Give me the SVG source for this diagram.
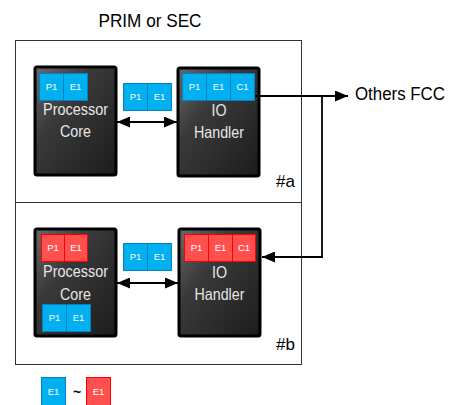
<svg xmlns="http://www.w3.org/2000/svg" width="451" height="405" viewBox="0 0 451 405">
<defs>
<linearGradient id="dark" x1="0" y1="0" x2="1" y2="1">
<stop offset="0" stop-color="#6a6a6a"/>
<stop offset="0.35" stop-color="#3a3a3a"/>
<stop offset="1" stop-color="#1c1c1c"/>
</linearGradient>
<marker id="ah" markerUnits="userSpaceOnUse" viewBox="0 0 13 11" markerWidth="13" markerHeight="11" refX="13" refY="5.5" orient="auto-start-reverse">
<path d="M0,0 L13,5.5 L0,11 z" fill="#000"/>
</marker>
<style>
.frame{fill:#fff;stroke:#333;stroke-width:1}
.core{fill:url(#dark);stroke:#000;stroke-width:3}
.blue{fill:#00b0f0;stroke:#0a7fc0;stroke-width:1}
.red{fill:#ff5050;stroke:#ff0000;stroke-width:1}
.ct{font-family:"Liberation Sans",Arial,sans-serif;font-size:9.5px;fill:#fff;text-anchor:middle}
.bt{font-family:"Liberation Sans",Arial,sans-serif;font-size:16.5px;fill:#e6e6e6;text-anchor:middle}
.lbl{font-family:"Liberation Sans",Arial,sans-serif;fill:#000}
.wire{fill:none;stroke:#000;stroke-width:1.8}
</style>
</defs>
<rect width="451" height="405" fill="#fff"/>

<g id="title"><text class="lbl" x="150" y="27" font-size="19" text-anchor="middle" textLength="103" lengthAdjust="spacingAndGlyphs">PRIM or SEC</text></g>

<g id="frame-a"><rect class="frame" x="15.5" y="40.5" width="286" height="162"/><text class="lbl" x="276" y="187" font-size="17">#a</text></g>
<g id="frame-b"><rect class="frame" x="15.5" y="202.5" width="286" height="162"/><text class="lbl" x="276" y="350" font-size="17">#b</text></g>

<g id="proc-a">
<rect class="core" x="35" y="67" width="81" height="108" rx="2"/>
<rect class="blue" x="39.5" y="73.5" width="24" height="27"/><rect class="blue" x="63.5" y="73.5" width="24" height="27"/>
<text class="ct" x="51.5" y="90">P1</text><text class="ct" x="75.5" y="90">E1</text>
<text class="bt" x="75.5" y="115" textLength="65" lengthAdjust="spacingAndGlyphs">Processor</text>
<text class="bt" x="75.5" y="137" textLength="31" lengthAdjust="spacingAndGlyphs">Core</text>
</g>

<g id="io-a">
<rect class="core" x="178" y="68" width="81" height="108" rx="2"/>
<rect class="blue" x="182.5" y="73.5" width="24" height="27"/><rect class="blue" x="206.5" y="73.5" width="24" height="27"/><rect class="blue" x="230.5" y="73.5" width="24" height="27"/>
<text class="ct" x="194.5" y="90">P1</text><text class="ct" x="218.5" y="90">E1</text><text class="ct" x="242.5" y="90">C1</text>
<text class="bt" x="219" y="116" textLength="15" lengthAdjust="spacingAndGlyphs">IO</text>
<text class="bt" x="219" y="138" textLength="50" lengthAdjust="spacingAndGlyphs">Handler</text>
</g>

<g id="msg-a">
<rect class="blue" x="123.5" y="83.5" width="24" height="27"/><rect class="blue" x="147.5" y="83.5" width="24" height="27"/>
<text class="ct" x="135.5" y="100">P1</text><text class="ct" x="159.5" y="100">E1</text>
</g>

<g id="proc-b">
<rect class="core" x="35" y="229" width="81" height="107" rx="2"/>
<rect class="red" x="41.5" y="234.5" width="23" height="27"/><rect class="red" x="64.5" y="234.5" width="23" height="27"/>
<text class="ct" x="53" y="251">P1</text><text class="ct" x="76" y="251">E1</text>
<text class="bt" x="75.5" y="277" textLength="65" lengthAdjust="spacingAndGlyphs">Processor</text>
<text class="bt" x="75.5" y="300" textLength="31" lengthAdjust="spacingAndGlyphs">Core</text>
<rect class="blue" x="42.5" y="304.5" width="24" height="27"/><rect class="blue" x="66.5" y="304.5" width="24" height="27"/>
<text class="ct" x="54.5" y="321">P1</text><text class="ct" x="78.5" y="321">E1</text>
</g>

<g id="io-b">
<rect class="core" x="179" y="229" width="81" height="107" rx="2"/>
<rect class="red" x="184.5" y="234.5" width="24" height="27"/><rect class="red" x="208.5" y="234.5" width="24" height="27"/><rect class="red" x="232.5" y="234.5" width="23" height="27"/>
<text class="ct" x="196.5" y="251">P1</text><text class="ct" x="220.5" y="251">E1</text><text class="ct" x="244" y="251">C1</text>
<text class="bt" x="219.5" y="278" textLength="15" lengthAdjust="spacingAndGlyphs">IO</text>
<text class="bt" x="219.5" y="300" textLength="50" lengthAdjust="spacingAndGlyphs">Handler</text>
</g>

<g id="msg-b">
<rect class="blue" x="123.5" y="243.5" width="24" height="27"/><rect class="blue" x="147.5" y="243.5" width="24" height="27"/>
<text class="ct" x="135.5" y="260">P1</text><text class="ct" x="159.5" y="260">E1</text>
</g>

<g id="others"><text class="lbl" x="355" y="100" font-size="17.5" textLength="90" lengthAdjust="spacingAndGlyphs">Others FCC</text></g>

<g id="connectors">
<line class="wire" x1="117" y1="122" x2="177" y2="122" marker-start="url(#ah)" marker-end="url(#ah)"/>
<line class="wire" x1="117" y1="283" x2="178" y2="283" marker-start="url(#ah)" marker-end="url(#ah)"/>
<line class="wire" x1="255" y1="96" x2="348" y2="96" marker-end="url(#ah)"/>
<polyline class="wire" points="322,96 322,257 262,257" marker-end="url(#ah)"/>
</g>

<g id="legend">
<rect class="blue" x="41.5" y="377.5" width="24" height="29"/>
<text class="ct" x="53.5" y="395">E1</text>
<text class="lbl" x="77" y="397" font-size="14" font-weight="bold" text-anchor="middle">~</text>
<rect class="red" x="86.5" y="377.5" width="24" height="29"/>
<text class="ct" x="98.5" y="395">E1</text>
</g>
</svg>
